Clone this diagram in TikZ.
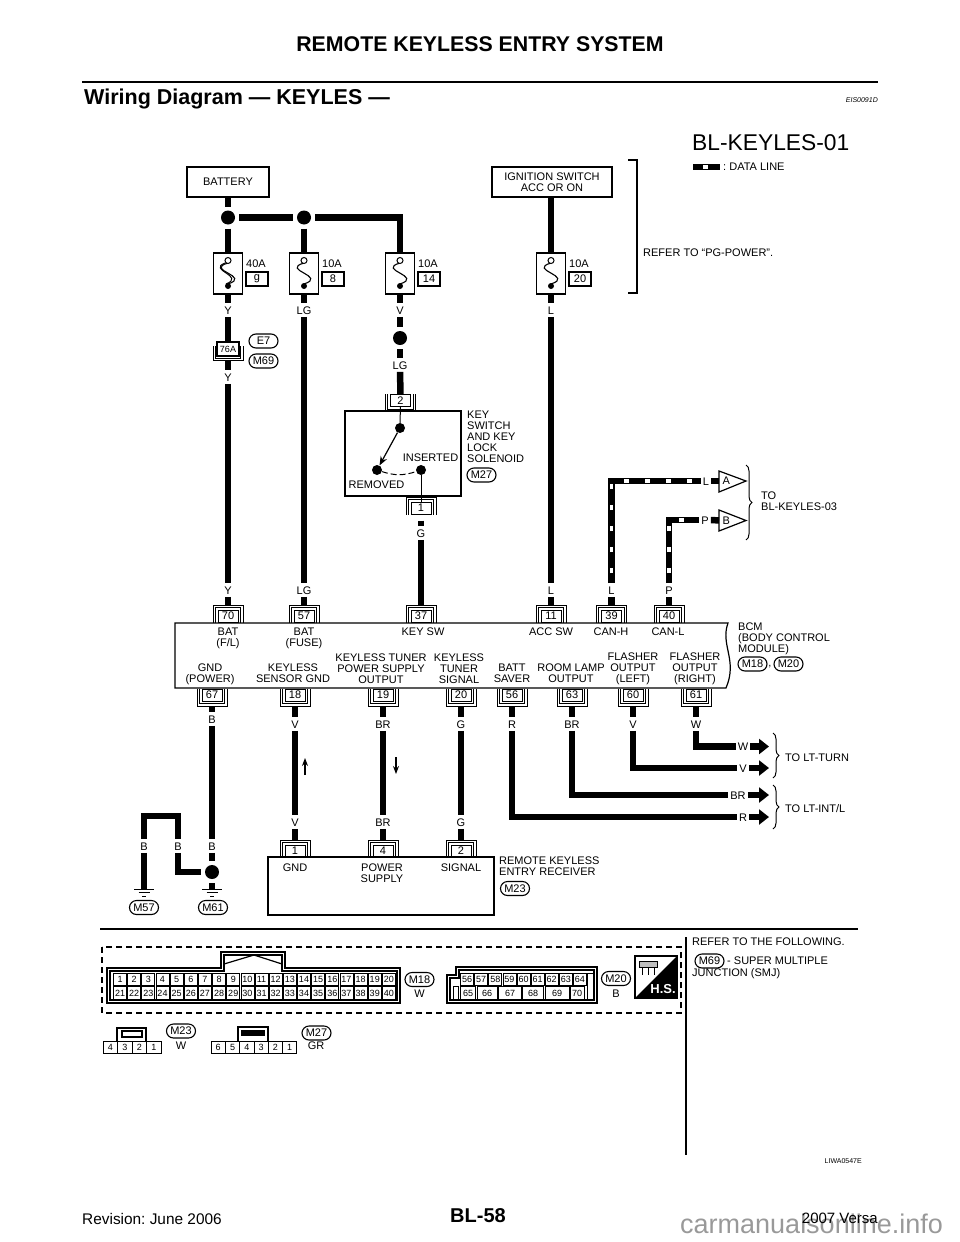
\documentclass[tikz,border=0pt]{standalone}
\usepackage{fontspec}
\setmainfont{Liberation Sans}
\usetikzlibrary{arrows.meta,shapes.misc,decorations.pathreplacing}
\tikzset{
	wire/.style={line width=6.5pt},
	datawire/.style={line width=6.5pt, postaction={draw=white, line width=3.8pt, dash pattern=on 5pt off 16pt, dash phase=11pt}},
	boxline/.style={line width=1.2pt},
	thinline/.style={line width=1pt},
	pinline/.style={line width=0.8pt},
	lbl/.style={inner xsep=2pt, inner ysep=2.7pt, text height=8pt, text depth=0pt},
	txt/.style={inner sep=0pt, align=left, anchor=north west},
	cen/.style={inner sep=0pt, align=center, anchor=north},
	tag/.style={draw, rounded rectangle, line width=1.1pt, minimum width=29pt, minimum height=14pt, inner sep=0pt},
	boxnode/.style={draw, boxline, inner sep=0pt},
	pinbox/.style={draw, line width=1pt, minimum width=20pt, minimum height=12pt, inner sep=0pt},
	numbox/.style={draw, boxline, minimum width=22pt, minimum height=14pt, inner sep=0pt},
	fusebox/.style={draw, boxline, minimum width=29pt, minimum height=41pt, inner sep=0pt},
	spl/.style={circle, fill=black, minimum size=14pt, inner sep=0pt, outer sep=4pt},
	swdot/.style={circle, fill=black, minimum size=10pt, inner sep=0pt},
	cell/.style={draw, line width=0.8pt, minimum height=12.5pt, inner sep=0pt, font=\fontsize{9}{9}\selectfont},
	fatarrow/.style={line width=6.5pt, -{Triangle[width=15pt,length=10pt]}},
	tinyarrow/.style={line width=1.2pt, -{Stealth[width=6pt,length=8pt]}},
	bracefig/.style={thinline, decorate, decoration={brace, amplitude=6pt}}
}
\newcommand{\fuselink}[4]{
	\node[fusebox] (#1) at (#2,273.5) {};
	\draw[line width=1.1pt] (#2,263) .. controls (#2-24,270) and (#2+24,276) .. (#2,284);
	\draw[thinline, fill=white] (#2,260.5) circle (3pt);
	\fill (#2,286) circle (3pt);
	\node[txt, anchor=west] (#1amp) at (#2+18,264) {#3};
	\node[numbox] (#1num) at (#2+29,279) {#4};
}
\newcommand{\pinN}[4]{
	\node[pinbox] (#1) at (#2,#3) {#4};
	\draw[pinline] (#2-15,#3+6.5) -- (#2-15,#3-11) -- (#2+15,#3-11) -- (#2+15,#3+6.5);
	\draw[pinline] (#2-12.7,#3+6.5) -- (#2-12.7,#3-8.5) -- (#2+12.7,#3-8.5) -- (#2+12.7,#3+6.5);
}
\newcommand{\pinU}[4]{
	\node[pinbox] (#1) at (#2,#3) {#4};
	\draw[pinline] (#2-15,#3-6.5) -- (#2-15,#3+11) -- (#2+15,#3+11) -- (#2+15,#3-6.5);
	\draw[pinline] (#2-12.7,#3-6.5) -- (#2-12.7,#3+8.5) -- (#2+12.7,#3+8.5) -- (#2+12.7,#3-6.5);
}
\newcommand{\gndmark}[3]{
	\coordinate (#1) at (#2,#3);
	\draw[thinline] (#2-10,#3) -- (#2+10,#3);
	\draw[thinline] (#2-5.5,#3+3.5) -- (#2+5.5,#3+3.5);
	\draw[thinline] (#2-2,#3+7) -- (#2+2,#3+7);
}
\begin{document}
\frenchspacing
\begin{tikzpicture}[x=1pt, y=-1pt, font=\fontsize{11}{11}\selectfont]
			\useasboundingbox (0,0) rectangle (960,1242);
			\node[inner sep=0pt, anchor=base west, text=black!40, font=\fontsize{27}{27}\selectfont] (txtMark) at (680,1233) {carmanualsonline.info};
			\node[inner sep=0pt, font=\bfseries\fontsize{21.3}{21.3}\selectfont] (txtHead) at (480,44) {REMOTE KEYLESS ENTRY SYSTEM};
			\draw[line width=2.4pt] (82,82) -- (878,82);
			\node[txt, font=\bfseries\fontsize{21.5}{21.5}\selectfont] (txtSub) at (84,89) {Wiring Diagram — KEYLES —};
			\node[inner sep=0pt, anchor=east, font=\itshape\fontsize{7}{7}\selectfont] (txtEis) at (878,100) {EIS0091D};
			\node[inner sep=0pt, anchor=west, font=\fontsize{22.8}{22.8}\selectfont] (txtTitle) at (692,143) {BL-KEYLES-01};
			\coordinate (legA) at (693,167);
			\coordinate (legB) at (720,167);
			\draw[datawire] (legA) -- (legB);
			\node[inner sep=0pt, anchor=west] (txtLeg) at (723,167) {: DATA LINE};
			\node[boxnode, minimum width=82pt, minimum height=30pt] (batt) at (228,182) {BATTERY};
			\node[boxnode, minimum width=120pt, minimum height=30pt, align=center] (ign) at (552,182) {IGNITION SWITCH\\ACC OR ON};
			\node[spl] (spA) at (228,217.5) {};
			\node[spl] (spB) at (304,217.5) {};
			\coordinate (cnrA) at (400,217.5);
			\coordinate (ignOut) at (551,197);
			\fuselink{fuseA}{228}{40A}{g}
			\draw[thinline] (225,263) .. controls (207,270) and (246,276) .. (226,284);
			\fuselink{fuseB}{304}{10A}{8}
			\fuselink{fuseC}{400}{10A}{14}
			\fuselink{fuseD}{551}{10A}{20}
			\draw[wire] (batt) -- (spA);
			\draw[wire] (spA) -- (fuseA);
			\draw[wire] (spA) -- (spB);
			\draw[wire] (spB) -- (fuseB);
			\draw[wire] (spB) -- (cnrA) -- (fuseC);
			\draw[wire] (ignOut) -- (fuseD);
			\draw[boxline] (628,160) -- (637,160) -- (637,293) -- (628,293);
			\node[inner sep=0pt, anchor=west] (txtRef) at (643,253) {REFER TO “PG-POWER”.};
			\node[lbl] (lY1) at (228,310) {Y};
			\node[lbl] (lG1) at (304,310) {LG};
			\node[lbl] (lV1) at (400,310) {V};
			\node[lbl] (lL1) at (551,310) {L};
			\node[boxnode, minimum width=22pt, minimum height=14pt, font=\fontsize{9}{9}\selectfont] (c76) at (228,349) {76A};
			\draw[pinline] (213,346) -- (213,360.5) -- (243,360.5) -- (243,346);
			\draw[pinline] (215.5,346) -- (215.5,358) -- (240.5,358) -- (240.5,346);
			\node[tag] (tagEa) at (263.5,341) {E7};
			\node[tag] (tagMa) at (263.5,361) {M69};
			\node[lbl] (lY2) at (228,377) {Y};
			\node[spl] (spC) at (400,338) {};
			\node[lbl] (lG2) at (400,365) {LG};
			\draw[wire] (fuseA) -- (lY1);
			\draw[wire] (lY1) -- (c76);
			\draw[wire, shorten <=4pt] (c76) -- (lY2);
			\draw[wire] (fuseB) -- (lG1);
			\draw[wire] (fuseC) -- (lV1);
			\draw[wire] (lV1) -- (spC);
			\draw[wire] (spC) -- (lG2);
			\draw[wire] (fuseD) -- (lL1);
			\node[boxnode, minimum width=116pt, minimum height=85pt] (ksw) at (403,453.5) {};
			\pinU{pinKa}{400.5}{400.5}{2}
			\pinN{pinKb}{421}{508}{1}
			\draw[wire] (lG2) -- (pinKa);
			\node[swdot] (swA) at (400,428) {};
			\node[swdot] (swB) at (377,470) {};
			\node[swdot] (swC) at (421,470) {};
			\draw[thinline] (pinKa) -- (swA);
			\draw[thinline] (swC) -- (pinKb);
			\draw[line width=1.2pt, -{Stealth[width=7pt,length=9pt]}] (swA) -- (swB);
			\draw[thinline, dash pattern=on 6pt off 3pt] (swB) to[bend right=18] (swC);
			\node[inner sep=0pt] (txtIns) at (430.5,458) {INSERTED};
			\node[inner sep=0pt] (txtRem) at (376.5,485) {REMOVED};
			\node[txt] (txtKey) at (467,411) {KEY\\SWITCH\\AND KEY\\LOCK\\SOLENOID};
			\node[tag] (tagKey) at (481.5,475) {M27};
			\node[lbl] (lG3) at (421,533) {G};
			\draw[wire, shorten <=6pt] (pinKb) -- (lG3);
			\draw[boxline] (175,623) -- (728,623) .. controls (720,645) and (738,660) .. (726,688) -- (175,688) -- cycle;
			\foreach \nm/\cx/\cn in {pinTa/228/70, pinTb/304/57, pinTc/421/37, pinTd/551/11, pinTe/611.5/39, pinTf/669/40}
				\pinN{\nm}{\cx}{616}{\cn};
			\foreach \nm/\cx/\cn in {pinBa/212/67, pinBb/295/18, pinBc/383/19, pinBd/461/20, pinBe/512/56, pinBf/572/63, pinBg/633/60, pinBh/696/61}
				\pinU{\nm}{\cx}{695}{\cn};
			\node[lbl] (lY3) at (228,590) {Y};
			\node[lbl] (lG4) at (304,590) {LG};
			\node[lbl] (lL2) at (551,590) {L};
			\node[lbl] (lL3) at (611.5,590) {L};
			\node[lbl] (lP1) at (669,590) {P};
			\draw[wire] (lY2) -- (lY3);
			\draw[wire] (lG1) -- (lG4);
			\draw[wire] (lL1) -- (lL2);
			\foreach \a/\b in {lY3/pinTa, lG4/pinTb, lL2/pinTd, lL3/pinTe, lP1/pinTf, lG3/pinTc}
				\draw[wire, shorten >=5pt] (\a) -- (\b);
			\node[lbl] (lL4) at (706,481) {L};
			\node[lbl] (lP2) at (705,520) {P};
			\coordinate (cnrL) at (611.5,481);
			\coordinate (cnrP) at (669,520);
			\draw[datawire] (lL3) -- (cnrL) -- (lL4);
			\draw[datawire] (lP1) -- (cnrP) -- (lP2);
			\node[minimum width=14pt, inner sep=0pt, anchor=west] (trA) at (719,481) {A};
			\node[minimum width=14pt, inner sep=0pt, anchor=west] (trB) at (719,520.5) {B};
			\draw[boxline] (719,471) -- (746,481) -- (719,492) -- cycle;
			\draw[boxline] (719,510) -- (746,520.5) -- (719,531) -- cycle;
			\draw[wire] (lL4) -- (trA);
			\draw[wire] (lP2) -- (trB);
			\draw[bracefig] (746,465) -- (746,540);
			\node[txt] (txtTo) at (761,492) {TO\\BL-KEYLES-03};
			\node[cen] (txtA) at (228,628) {BAT\\(F/L)};
			\node[cen] (txtB) at (304,628) {BAT\\(FUSE)};
			\node[cen] (txtC) at (423,628) {KEY SW};
			\node[cen] (txtD) at (551,628) {ACC SW};
			\node[cen] (txtE) at (611,628) {CAN-H};
			\node[cen] (txtF) at (668,628) {CAN-L};
			\node[cen] (txtG) at (210,664) {GND\\(POWER)};
			\node[cen] (txtH) at (293,664) {KEYLESS\\SENSOR GND};
			\node[cen] (txtI) at (381,654) {KEYLESS TUNER\\POWER SUPPLY\\OUTPUT};
			\node[cen] (txtJ) at (459,654) {KEYLESS\\TUNER\\SIGNAL};
			\node[cen] (txtK) at (512,664) {BATT\\SAVER};
			\node[cen] (txtL) at (571,664) {ROOM LAMP\\OUTPUT};
			\node[cen] (txtM) at (633,653) {FLASHER\\OUTPUT\\(LEFT)};
			\node[cen] (txtN) at (695,653) {FLASHER\\OUTPUT\\(RIGHT)};
			\node[txt] (txtBcm) at (738,623) {BCM\\(BODY CONTROL\\MODULE)};
			\node[tag] (tagMb) at (752.5,664) {M18};
			\node[inner sep=0pt] (txtComma) at (770,667) {,};
			\node[tag] (tagMc) at (788.5,664) {M20};
			\node[lbl] (lB1) at (212,719) {B};
			\node[lbl] (lV2) at (295,724) {V};
			\node[lbl] (lR1) at (383,724) {BR};
			\node[lbl] (lS1) at (461,724) {G};
			\node[lbl] (lR2) at (512,724) {R};
			\node[lbl] (lR3) at (572,724) {BR};
			\node[lbl] (lV3) at (633,724) {V};
			\node[lbl] (lW1) at (696,724) {W};
			\foreach \a/\b in {pinBa/lB1, pinBb/lV2, pinBc/lR1, pinBd/lS1, pinBe/lR2, pinBf/lR3, pinBg/lV3, pinBh/lW1}
				\draw[wire, shorten <=5pt] (\a) -- (\b);
			\node[lbl] (lW2) at (743,746.5) {W};
			\node[lbl] (lV4) at (743,768) {V};
			\node[lbl] (lR4) at (738,795) {BR};
			\node[lbl] (lR5) at (743,817) {R};
			\draw[wire] (lW1) |- (lW2);
			\draw[wire] (lV3) |- (lV4);
			\draw[wire] (lR3) |- (lR4);
			\draw[wire] (lR2) |- (lR5);
			\coordinate (endW) at (769,746.5);
			\coordinate (endV) at (769,768);
			\coordinate (endB) at (769,795);
			\coordinate (endR) at (769,817);
			\draw[fatarrow] (lW2) -- (endW);
			\draw[fatarrow] (lV4) -- (endV);
			\draw[fatarrow] (lR4) -- (endB);
			\draw[fatarrow] (lR5) -- (endR);
			\draw[bracefig] (773,733) -- (773,778);
			\draw[bracefig] (773,785) -- (773,829);
			\node[inner sep=0pt, anchor=west] (txtTurn) at (785,758) {TO LT-TURN};
			\node[inner sep=0pt, anchor=west] (txtInt) at (785,809) {TO LT-INT/L};
			\node[boxnode, minimum width=226pt, minimum height=58pt] (rcv) at (381,886) {};
			\pinN{pinRa}{295}{851}{1}
			\pinN{pinRb}{383}{851}{4}
			\pinN{pinRc}{461}{851}{2}
			\node[lbl] (lV5) at (295,822) {V};
			\node[lbl] (lR6) at (383,822) {BR};
			\node[lbl] (lS2) at (461,822) {G};
			\draw[wire] (lV2) -- (lV5);
			\draw[wire] (lR1) -- (lR6);
			\draw[wire] (lS1) -- (lS2);
			\draw[wire, shorten >=5pt] (lV5) -- (pinRa);
			\draw[wire, shorten >=5pt] (lR6) -- (pinRb);
			\draw[wire, shorten >=5pt] (lS2) -- (pinRc);
			\coordinate (arrA) at (305,775);
			\coordinate (arrB) at (305,758);
			\coordinate (arrC) at (396,757);
			\coordinate (arrD) at (396,774);
			\draw[tinyarrow] (arrA) -- (arrB);
			\draw[tinyarrow] (arrC) -- (arrD);
			\node[cen] (txtO) at (295,864) {GND};
			\node[cen] (txtP) at (382,864) {POWER\\SUPPLY};
			\node[cen] (txtQ) at (461,864) {SIGNAL};
			\node[txt] (txtRcv) at (499,857) {REMOTE KEYLESS\\ENTRY RECEIVER};
			\node[tag] (tagRcv) at (515,888.5) {M23};
			\node[lbl] (lB2) at (144,846) {B};
			\node[lbl] (lB3) at (178,846) {B};
			\node[lbl] (lB4) at (212,846) {B};
			\node[spl] (spD) at (212,872) {};
			\gndmark{gndA}{144}{889}
			\gndmark{gndB}{212}{889}
			\coordinate (jogA) at (144,816);
			\coordinate (jogB) at (178,816);
			\draw[wire] (lB1) -- (lB4);
			\draw[wire] (lB4) -- (spD);
			\draw[wire] (spD) -- (gndB);
			\draw[wire] (lB2) -- (gndA);
			\draw[wire] (lB2) -- (jogA) -- (jogB) -- (lB3);
			\draw[wire] (lB3) |- (spD);
			\node[tag] (tagGa) at (144,907.5) {M57};
			\node[tag] (tagGb) at (213,907.5) {M61};
			\draw[line width=1.3pt] (100,929) -- (858,929);
			\draw[line width=1.6pt] (686,937) -- (686,1155);
			\draw[line width=1.3pt, dash pattern=on 6pt off 4pt] (102,947) rectangle (681,1013);
			\draw[boxline] (107,968) -- (221,968) -- (221,952) -- (285,952) -- (285,968) -- (400,968) -- (400,1003) -- (107,1003) -- cycle;
			\draw[boxline] (110,971) -- (224,971) -- (224,955) -- (282,955) -- (282,971) -- (397,971) -- (397,1000) -- (110,1000) -- cycle;
			\draw[boxline] (224,964) -- (254,955) -- (282,964);
			\foreach \n in {1,...,20}
				\node[cell, minimum width=13pt] (mA\n) at ({105.9+14.15*\n},979.5) {\n};
			\foreach \n [evaluate=\n as \m using int(\n+20)] in {1,...,20}
				\node[cell, minimum width=13pt] (mA\m) at ({105.9+14.15*\n},993) {\m};
			\node[tag] (tagCa) at (419.5,979.5) {M18};
			\node[inner sep=0pt] (txtCa) at (419.5,994) {W};
			\draw[boxline] (447,1003) -- (447,975) -- (456,975) -- (456,967) -- (597,967) -- (597,1003) -- cycle;
			\draw[boxline] (450,1000) -- (450,978) -- (459,978) -- (459,970) -- (594,970) -- (594,1000) -- cycle;
			\foreach \n [count=\i] in {56,...,64}
				\node[cell, minimum width=13pt] (mB\n) at ({453+14.1*\i},979.5) {\n};
			\foreach \n/\cx/\w in {65/468/15, 66/487/20, 67/510/23, 68/533/21, 69/557/24, 70/577/14}
				\node[cell, minimum width=\w pt] (mB\n) at (\cx,993) {\n};
			\draw[thinline] (453,986) rectangle (458.5,999);
			\draw[thinline] (587.5,973) rectangle (593,999);
			\node[tag] (tagCb) at (616,978.5) {M20};
			\node[inner sep=0pt] (txtCb) at (616,994) {B};
			\draw[boxline] (635,956) rectangle (677,998);
			\fill (677,956) -- (677,998) -- (635,998) -- cycle;
			\node[inner sep=0pt, text=white, font=\bfseries\fontsize{13}{13}\selectfont] (txtHs) at (663,989) {H.S.};
			\draw[thinline, fill=black!25] (639,961) rectangle (657,967);
			\foreach \cx in {642,648,654}
				\draw[thinline] (\cx,967) -- (\cx,975);
			\node[cell, minimum width=14.5pt] (mC4) at (110.5,1047.5) {4};
			\node[cell, minimum width=14.5pt] (mC3) at (125,1047.5) {3};
			\node[cell, minimum width=14.5pt] (mC2) at (139.5,1047.5) {2};
			\node[cell, minimum width=14.5pt] (mC1) at (154,1047.5) {1};
			\draw[boxline] (117,1041) -- (117,1028) -- (146,1028) -- (146,1041);
			\draw[boxline] (122,1031) rectangle (142,1037);
			\node[tag] (tagCc) at (181,1031) {M23};
			\node[inner sep=0pt] (txtCc) at (181,1046) {W};
			\foreach \n [count=\i] in {6,...,1}
				\node[cell, minimum width=14.3pt] (mD\n) at ({203.9+14.3*\i},1047.5) {\n};
			\draw[boxline] (238,1041) -- (238,1027) -- (268,1027) -- (268,1041);
			\fill (241,1030) rectangle (265,1036);
			\node[tag] (tagCd) at (316.5,1033) {M27};
			\node[inner sep=0pt] (txtCd) at (316,1046) {GR};
			\node[inner sep=0pt, anchor=west] (txtFol) at (692,942) {REFER TO THE FOLLOWING.};
			\node[tag] (tagSmj) at (709.5,961) {M69};
			\node[inner sep=0pt, anchor=west] (txtSmj) at (727,961) {- SUPER MULTIPLE};
			\node[inner sep=0pt, anchor=west] (txtJun) at (692,974) {JUNCTION (SMJ)};
			\node[inner sep=0pt, anchor=east, font=\fontsize{7}{7}\selectfont] (txtLiw) at (862,1161) {LIWA0547E};
			\node[inner sep=0pt, font=\bfseries\fontsize{20}{20}\selectfont] (txtPage) at (478,1216) {BL-58};
			\node[inner sep=0pt, anchor=west, font=\fontsize{15.4}{15.4}\selectfont] (txtRev) at (82,1219) {Revision: June 2006};
			\node[inner sep=0pt, anchor=east, font=\fontsize{15}{15}\selectfont] (txtVer) at (878,1218) {2007 Versa};
\end{tikzpicture}
\end{document}
